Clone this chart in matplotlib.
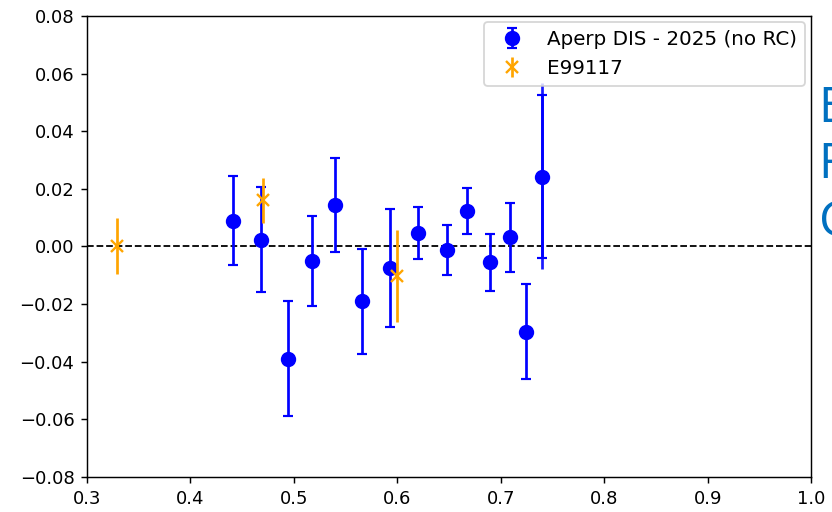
import matplotlib
matplotlib.use("Agg")
import matplotlib.pyplot as plt

# Aperp DIS - 2025 (no RC)
x_dis = [0.441, 0.468, 0.494, 0.517, 0.540, 0.566, 0.593, 0.620, 0.648,
         0.667, 0.690, 0.709, 0.724, 0.740]
y_dis = [0.0089, 0.0023, -0.0390, -0.0050, 0.0144, -0.0190, -0.0074, 0.0046,
         -0.0012, 0.0124, -0.0055, 0.0032, -0.0296, 0.0242]
err_dis = [0.0155, 0.0182, 0.0200, 0.0155, 0.0162, 0.0182, 0.0205, 0.0090,
           0.0087, 0.0080, 0.0098, 0.0120, 0.0164, 0.0282]

# wider uncapped bar on the last bin
x_wide = [0.740]
y_wide = [0.0244]
err_wide = [0.0323]

# E99117
x_e99 = [0.329, 0.470, 0.600]
y_e99 = [0.0000, 0.0161, -0.0102]
err_e99 = [0.0097, 0.0078, 0.0160]

fig = plt.figure(figsize=(6.4, 3.9385), dpi=130)
ax = fig.add_axes([0.1046, 0.0684, 0.8704, 0.9006])

ax.axhline(0.0, color="black", linestyle="--", linewidth=1.0, zorder=1)

ax.errorbar(x_wide, y_wide, yerr=err_wide, fmt="none", ecolor="blue",
            elinewidth=1.5, capsize=0, alpha=0.9, zorder=2)
ax.errorbar(x_dis, y_dis, yerr=err_dis, fmt="o", color="blue", ecolor="blue",
            markersize=7.5, elinewidth=1.5, capsize=3, capthick=1.2,
            label="Aperp DIS - 2025 (no RC)", zorder=3)
ax.errorbar(x_e99, y_e99, yerr=err_e99, fmt="x", color="orange",
            ecolor="orange", markersize=6.5, markeredgewidth=1.3,
            elinewidth=1.5, capsize=0, label="E99117", zorder=4)

ax.set_xlim(0.3, 1.0)
ax.set_ylim(-0.08, 0.08)
ax.set_xticks([0.3, 0.4, 0.5, 0.6, 0.7, 0.8, 0.9, 1.0])
ax.set_yticks([-0.08, -0.06, -0.04, -0.02, 0.0, 0.02, 0.04, 0.06, 0.08])

ax.legend(loc="upper right", fontsize=11, borderaxespad=0.3)

# side labels running off the right edge
for txt, yy in [("E", 0.762), ("F", 0.652), ("G", 0.539)]:
    fig.text(0.984, yy, txt, color="#0070C0", fontsize=27,
             family=["Open Sans", "DejaVu Sans"], va="baseline", ha="left")

fig.savefig("out.png", dpi=130)
